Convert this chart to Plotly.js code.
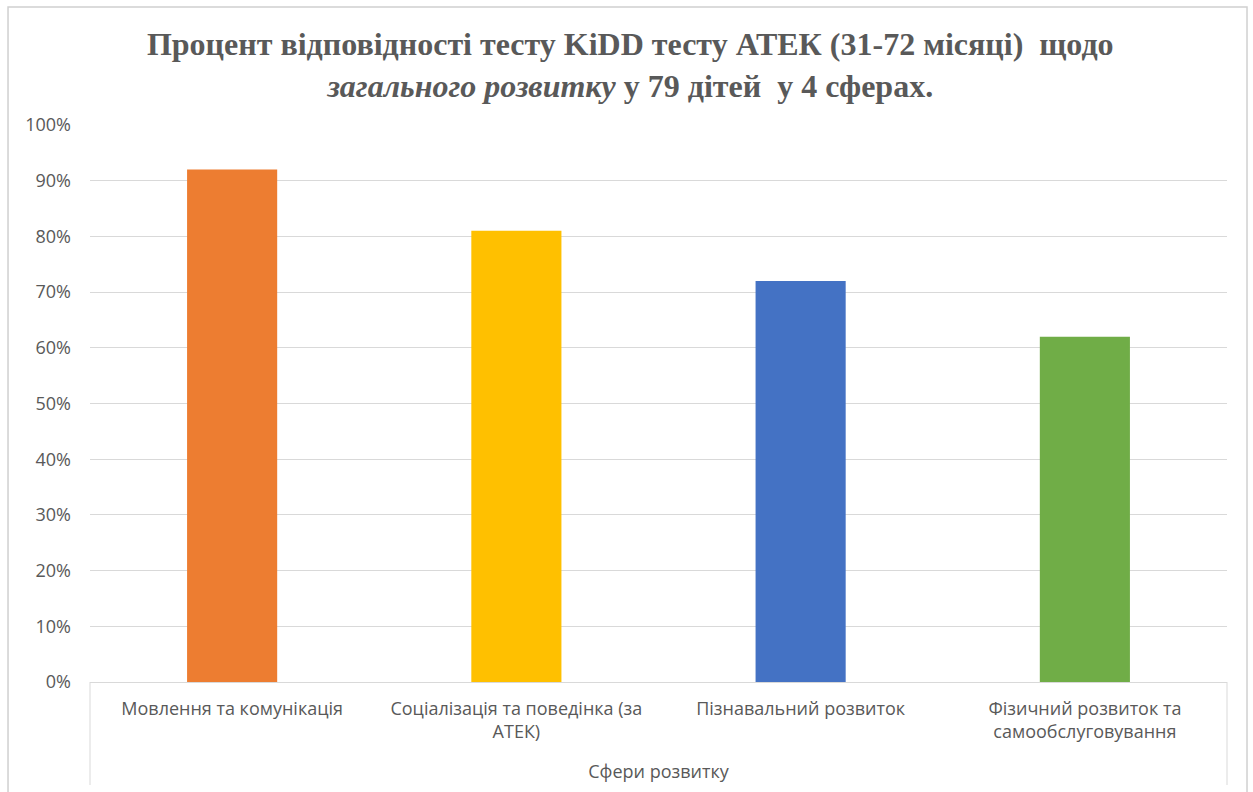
<!DOCTYPE html>
<html>
<head>
<meta charset="utf-8">
<script src="https://cdn.plot.ly/plotly-3.0.1.min.js"></script>
<style>html,body{margin:0;padding:0;background:#fff;}#chart{width:1253px;height:792px;}</style>
</head>
<body>
<div id="chart"></div>
<script>
const categories = [
  "Мовлення та комунікація",
  "Соціалізація та поведінка (за<br>АТЕК)",
  "Пізнавальний розвиток",
  "Фізичний розвиток та<br>самообслуговування"
];
const values = [0.92, 0.81, 0.72, 0.62];
const barColors = ["#ED7D31", "#FFC000", "#4472C4", "#70AD47"];
const tickValues = [0, 0.1, 0.2, 0.3, 0.4, 0.5, 0.6, 0.7, 0.8, 0.9, 1.0];
const titleLine1 = "Процент відповідності тесту KiDD тесту АТЕК (31-72 місяці)  щодо";
const titleLine2 = "<i>загального розвитку</i> у 79 дітей  у 4 сферах.";
const xTitle = "Сфери розвитку";

const trace = {
  type: "bar",
  x: categories,
  y: values,
  marker: {color: barColors},
  hoverinfo: "skip"
};

const grey = "#595959";
const layout = {
  width: 1253,
  height: 792,
  paper_bgcolor: "#fff",
  plot_bgcolor: "#fff",
  margin: {l: 90, r: 26, t: 125, b: 110, pad: 0},
  showlegend: false,
  bargap: 0.683,
  title: {
    text: "<b>" + titleLine1 + "<br>" + titleLine2 + "</b>",
    font: {family: "Liberation Serif", size: 32, color: grey},
    x: 0.503, xref: "container", xanchor: "center",
    y: 0.93, yref: "container", yanchor: "top"
  },
  xaxis: {
    type: "category",
    showgrid: false,
    showline: true,
    linecolor: "#d9d9d9",
    linewidth: 1,
    ticks: "",
    ticklabelstandoff: 10,
    tickfont: {family: "Open Sans, sans-serif", size: 18, color: grey},
    tickangle: 0,
    title: {text: xTitle, font: {family: "Open Sans, sans-serif", size: 18, color: grey}, standoff: 23},
    automargin: false
  },
  yaxis: {
    range: [0, 1],
    tickvals: tickValues,
    tickformat: ".0%",
    showgrid: true,
    gridcolor: "#d9d9d9",
    gridwidth: 1,
    zeroline: false,
    showline: false,
    ticks: "",
    ticklabelstandoff: 18,
    tickfont: {family: "Open Sans, sans-serif", size: 18, color: grey},
    automargin: false
  },
  shapes: [
    {type: "rect", xref: "paper", yref: "paper", x0: -0.0721, x1: 1.0176, y0: -0.25, y1: 1.2118,
     line: {color: "#d0d0d0", width: 1.5}, fillcolor: "rgba(0,0,0,0)", layer: "below"},
    {type: "line", xref: "paper", yref: "paper", x0: 0, x1: 0, y0: 0, y1: -0.185,
     line: {color: "#d9d9d9", width: 1}},
    {type: "line", xref: "paper", yref: "paper", x0: 1, x1: 1, y0: 0, y1: -0.185,
     line: {color: "#d9d9d9", width: 1}}
  ]
};

Plotly.newPlot("chart", [trace], layout, {staticPlot: true, displayModeBar: false});
</script>
</body>
</html>
